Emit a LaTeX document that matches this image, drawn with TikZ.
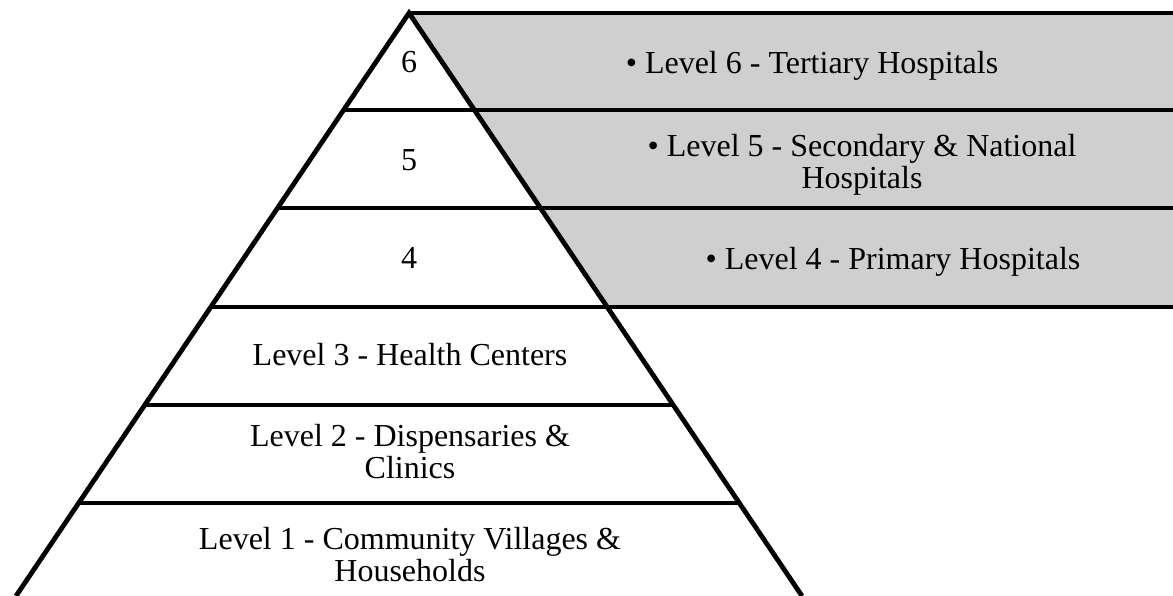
\documentclass[tikz,border=0pt]{standalone}
\usepackage{fontspec}
\setmainfont{Liberation Serif}
\definecolor{levelgray}{RGB}{207,207,207}
\tikzset{
	tier/.style={line width=4.8pt},
	label/.style={font=\fontsize{32}{32}\selectfont, align=center, inner sep=0pt},
}

\begin{document}
\begin{tikzpicture}[x=1pt, y=-1pt]
	\useasboundingbox (0,0) rectangle (1173,596);
	\clip (0,0) rectangle (1173,596);
	\coordinate (apex) at (409,13);
	% shaded band for the hospital levels
	\fill [levelgray] (apex) -- (1173,13) -- (1173,307) -- (607.2,307) -- cycle;
	\draw [tier] (apex) -- (1173,13);
	\draw [tier] (343.6,110) -- (1173,110);
	\draw [tier] (277.6,208) -- (1173,208);
	\draw [tier] (210.8,307) -- (1173,307);
	\draw [tier] (144.8,405) -- (673.2,405);
	\draw [tier] (78.7,503) -- (739.3,503);
	\draw [tier, line join=miter] (16,596) -- (apex) -- (802,596);

	\node [label] (l6) at (409,62) {6};
	\node [label] (l5) at (409,160) {5};
	\node [label] (l4) at (409,258) {4};
	\node [label] (l3) at (410,355) {Level 3 - Health Centers};
	\node [label] (l2) at (410,452) {Level 2 - Dispensaries \&\\Clinics};
	\node [label] (l1) at (410,555) {Level 1 - Community Villages \&\\Households};

	\node [label] (h6) at (812,66) {\textbullet\ Level 6 - Tertiary Hospitals};
	\node [label] (h5) at (862,165) {\textbullet\ Level 5 - Secondary \& National\\Hospitals};
	\node [label] (h4) at (893,262) {\textbullet\ Level 4 - Primary Hospitals};
\end{tikzpicture}
\end{document}
